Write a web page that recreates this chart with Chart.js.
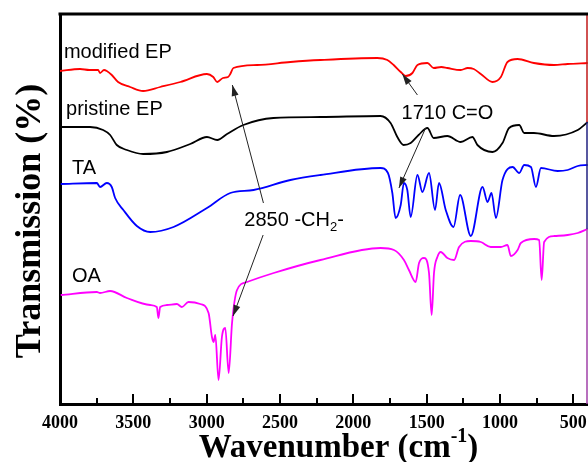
<!DOCTYPE html>
<html>
<head>
<meta charset="utf-8">
<script src="https://cdn.jsdelivr.net/npm/chart.js@4.4.1/dist/chart.umd.min.js"></script>
<style>
  html, body { margin: 0; padding: 0; background: #fff; }
  #wrap { width: 588px; height: 462px; }
</style>
</head>
<body>
<div id="wrap"><canvas id="ftir"></canvas></div>
<script>
// wavenumber (cm-1) / transmission (arbitrary, offset per curve)
const modEpX = [4000, 3863, 3800, 3740, 3727, 3700, 3681, 3647, 3604, 3522, 3433, 3317, 3180, 2998, 2955, 2928, 2889, 2854, 2839, 2818, 2656, 2429, 2224, 1837, 1768, 1725, 1677, 1643, 1597, 1563, 1495, 1452, 1400, 1359, 1268, 1220, 1179, 1131, 1051, 994, 949, 880, 769, 632, 539, 402];
const modEpY = [333, 335, 334, 334, 331, 334, 333, 329, 322, 317, 313, 317, 322, 330, 327, 322, 326, 327, 330, 336, 339, 342, 344, 346, 344, 339, 332, 328, 331, 339, 341, 336, 337, 336, 334, 336, 335, 330, 322, 327, 342, 345, 341, 339, 340, 341];

const pristineX = [3995, 3795, 3706, 3658, 3613, 3544, 3433, 3271, 3112, 2998, 2928, 2861, 2750, 2545, 2224, 1814, 1746, 1700, 1657, 1609, 1555, 1495, 1452, 1359, 1268, 1188, 1154, 1051, 983, 938, 869, 835, 769, 632, 470, 402];
const pristineY = [277, 277, 274, 269, 259, 254, 250, 252, 260, 267, 264, 270, 279, 286, 287, 288, 281, 267, 259, 261, 269, 276, 266, 268, 262, 267, 259, 252, 261, 276, 279, 271, 271, 268, 274, 282];

const taX = [3995, 3749, 3727, 3681, 3647, 3624, 3568, 3476, 3385, 3226, 2998, 2839, 2680, 2429, 2224, 1814, 1764, 1734, 1712, 1677, 1655, 1632, 1609, 1563, 1529, 1484, 1443, 1416, 1370, 1317, 1272, 1199, 1119, 1085, 1058, 1028, 983, 914, 869, 835, 789, 755, 721, 607, 539, 470, 402];
const taY = [220, 221, 217, 221, 217, 206, 194, 178, 172, 177, 196, 211, 214, 224, 229, 236, 231, 211, 186, 199, 221, 214, 187, 229, 212, 231, 194, 221, 194, 177, 209, 168, 217, 202, 211, 186, 224, 237, 231, 239, 237, 217, 236, 233, 234, 238, 239];

const oaX = [3995, 3749, 3727, 3658, 3544, 3385, 3340, 3329, 3317, 3271, 3203, 3169, 3124, 3044, 2987, 2964, 2953, 2941, 2919, 2896, 2873, 2850, 2827, 2793, 2725, 2543, 2224, 1814, 1723, 1655, 1621, 1575, 1552, 1518, 1484, 1466, 1450, 1427, 1404, 1359, 1313, 1279, 1199, 1131, 1063, 994, 949, 926, 880, 858, 767, 733, 716, 699, 630, 539, 470, 402];
const oaY = [109, 112, 111, 113, 106, 99, 97, 86, 97, 99, 100, 97, 102, 100, 91, 67, 62, 69, 24, 67, 76, 31, 81, 114, 122, 131, 144, 156, 154, 144, 134, 122, 141, 146, 131, 89, 131, 147, 152, 146, 144, 157, 163, 162, 157, 157, 159, 148, 154, 161, 165, 164, 124, 162, 168, 169, 171, 175];

const xTicks = [4000, 3500, 3000, 2500, 2000, 1500, 1000, 500];

const serif = "'Liberation Serif', 'Times New Roman', serif";
const sans = "'Liberation Sans', Arial, sans-serif";

function pts(xs, ys) {
    return xs.map((x, i) => ({ x: x, y: ys[i] }));
}

// curve labels and arrows, positioned in data units
const curveLabels = [
    { text: "modified EP", x: 3973, y: 346 },
    { text: "pristine EP", x: 3959, y: 289 },
    { text: "TA", x: 3918, y: 230 },
    { text: "OA", x: 3918, y: 122 },
    { text: "1710 C=O", x: 1671, y: 285 }
];
const arrows = [
    { from: [2613, 201], to: [2825, 319] },
    { from: [2615, 169], to: [2820, 88] },
    { from: [1563, 309], to: [1666, 330] },
    { from: [1507, 276], to: [1689, 216] }
];

const overlay = {
    id: "overlay",
    afterDatasetsDraw(chart) {
        const ctx = chart.ctx;
        const xs = chart.scales.x, ys = chart.scales.y;
        const area = chart.chartArea;
        ctx.save();

        // right edge line, coloured like the curve ends
        const rx = area.right - 1;
        const yBlack = ys.getPixelForValue(pristineY[pristineY.length - 1]);
        const yOa = ys.getPixelForValue(oaY[oaY.length - 1]);
        [[area.top, yBlack, "#c01818"], [yBlack, yOa, "#202080"], [yOa, area.bottom, "#a040a8"]].forEach(s => {
            ctx.strokeStyle = s[2];
            ctx.lineWidth = 1.5;
            ctx.beginPath();
            ctx.moveTo(rx, s[0]);
            ctx.lineTo(rx, s[1]);
            ctx.stroke();
        });

        // top frame line
        ctx.strokeStyle = "#000";
        ctx.lineWidth = 3;
        ctx.beginPath();
        ctx.moveTo(area.left - 1.5, area.top);
        ctx.lineTo(area.right, area.top);
        ctx.stroke();

        // inward ticks on bottom axis
        ctx.lineWidth = 2;
        for (let v = 3750; v >= 500; v -= 250) {
            const px = Math.round(xs.getPixelForValue(v));
            const len = v % 500 === 0 ? 10 : 6;
            ctx.beginPath();
            ctx.moveTo(px, area.bottom);
            ctx.lineTo(px, area.bottom - len);
            ctx.stroke();
        }

        // axis titles
        ctx.fillStyle = "#000";
        ctx.textBaseline = "alphabetic";
        ctx.textAlign = "left";
        const big = "bold 33px " + serif, small = "bold 20px " + serif;
        ctx.font = big;
        const t1 = "Wavenumber (cm", t3 = ")";
        const w1 = ctx.measureText(t1).width, w3 = ctx.measureText(t3).width;
        ctx.font = small;
        const w2 = ctx.measureText("-1").width;
        let tx = 195 + (287 - (w1 + w2 + w3)) / 2;
        const ty = 457;
        ctx.font = big;
        ctx.fillText(t1, tx, ty);
        tx += w1;
        ctx.font = small;
        ctx.fillText("-1", tx, ty - 15);
        tx += w2;
        ctx.font = big;
        ctx.fillText(t3, tx, ty);

        ctx.save();
        ctx.translate(40, 221);
        ctx.rotate(-Math.PI / 2);
        ctx.textAlign = "center";
        ctx.font = "bold 36px " + serif;
        ctx.fillText("Transmission (%)", 0, 0);
        ctx.restore();

        // text labels
        ctx.font = "20px " + sans;
        curveLabels.forEach(l => {
            ctx.fillText(l.text, xs.getPixelForValue(l.x), ys.getPixelForValue(l.y));
        });
        // 2850 -CH2- with subscript
        let lx = xs.getPixelForValue(2743), ly = ys.getPixelForValue(178);
        const main = "2850 -CH";
        ctx.fillText(main, lx, ly);
        lx += ctx.measureText(main).width;
        ctx.font = "13px " + sans;
        ctx.fillText("2", lx, ly + 5);
        lx += ctx.measureText("2").width;
        ctx.font = "20px " + sans;
        ctx.fillText("-", lx, ly);

        // arrows
        ctx.strokeStyle = "#222";
        ctx.fillStyle = "#222";
        ctx.lineWidth = 1;
        arrows.forEach(a => {
            const x0 = xs.getPixelForValue(a.from[0]), y0 = ys.getPixelForValue(a.from[1]);
            const x1 = xs.getPixelForValue(a.to[0]), y1 = ys.getPixelForValue(a.to[1]);
            const ang = Math.atan2(y1 - y0, x1 - x0);
            ctx.beginPath();
            ctx.moveTo(x0, y0);
            ctx.lineTo(x1, y1);
            ctx.stroke();
            const hl = 11, hw = 3.5;
            ctx.beginPath();
            ctx.moveTo(x1, y1);
            ctx.lineTo(x1 - hl * Math.cos(ang) + hw * Math.sin(ang), y1 - hl * Math.sin(ang) - hw * Math.cos(ang));
            ctx.lineTo(x1 - hl * Math.cos(ang) - hw * Math.sin(ang), y1 - hl * Math.sin(ang) + hw * Math.cos(ang));
            ctx.closePath();
            ctx.fill();
        });
        ctx.restore();
    }
};

const lineDs = (label, data, color) => ({
    label,
    data,
    borderColor: color,
    borderWidth: 1.8,
    pointRadius: 0,
    cubicInterpolationMode: "monotone",
    fill: false
});

new Chart(document.getElementById("ftir"), {
    type: "line",
    data: {
        datasets: [
            lineDs("modified EP", pts(modEpX, modEpY), "#ff0000"),
            lineDs("pristine EP", pts(pristineX, pristineY), "#000000"),
            lineDs("TA", pts(taX, taY), "#0000ff"),
            lineDs("OA", pts(oaX, oaY), "#ff00ff")
        ]
    },
    options: {
        responsive: true,
        maintainAspectRatio: false,
        animation: false,
        layout: { padding: { top: 14, right: 0, left: 0, bottom: 0 } },
        plugins: {
            legend: { display: false },
            tooltip: { enabled: false }
        },
        scales: {
            x: {
                type: "linear",
                reverse: true,
                min: 400,
                max: 4000,
                afterBuildTicks: s => { s.ticks = xTicks.map(v => ({ value: v })); },
                afterFit: s => { s.height = 58; s.paddingLeft = 0; s.paddingRight = 0; },
                grid: { display: true, drawOnChartArea: false, drawTicks: false },
                border: { display: true, color: "#000", width: 3 },
                ticks: {
                    color: "#000",
                    padding: 9,
                    maxRotation: 0,
                    autoSkip: false,
                    callback: v => String(v),
                    font: { family: serif, size: 18, weight: "bold" }
                },
                title: { display: false }
            },
            y: {
                min: 0,
                max: 390,
                afterFit: s => { s.width = 60; },
                grid: { display: true, drawOnChartArea: false, drawTicks: false },
                border: { display: true, color: "#000", width: 3 },
                ticks: { display: false },
                title: { display: false }
            }
        }
    },
    plugins: [overlay]
});
</script>
</body>
</html>
